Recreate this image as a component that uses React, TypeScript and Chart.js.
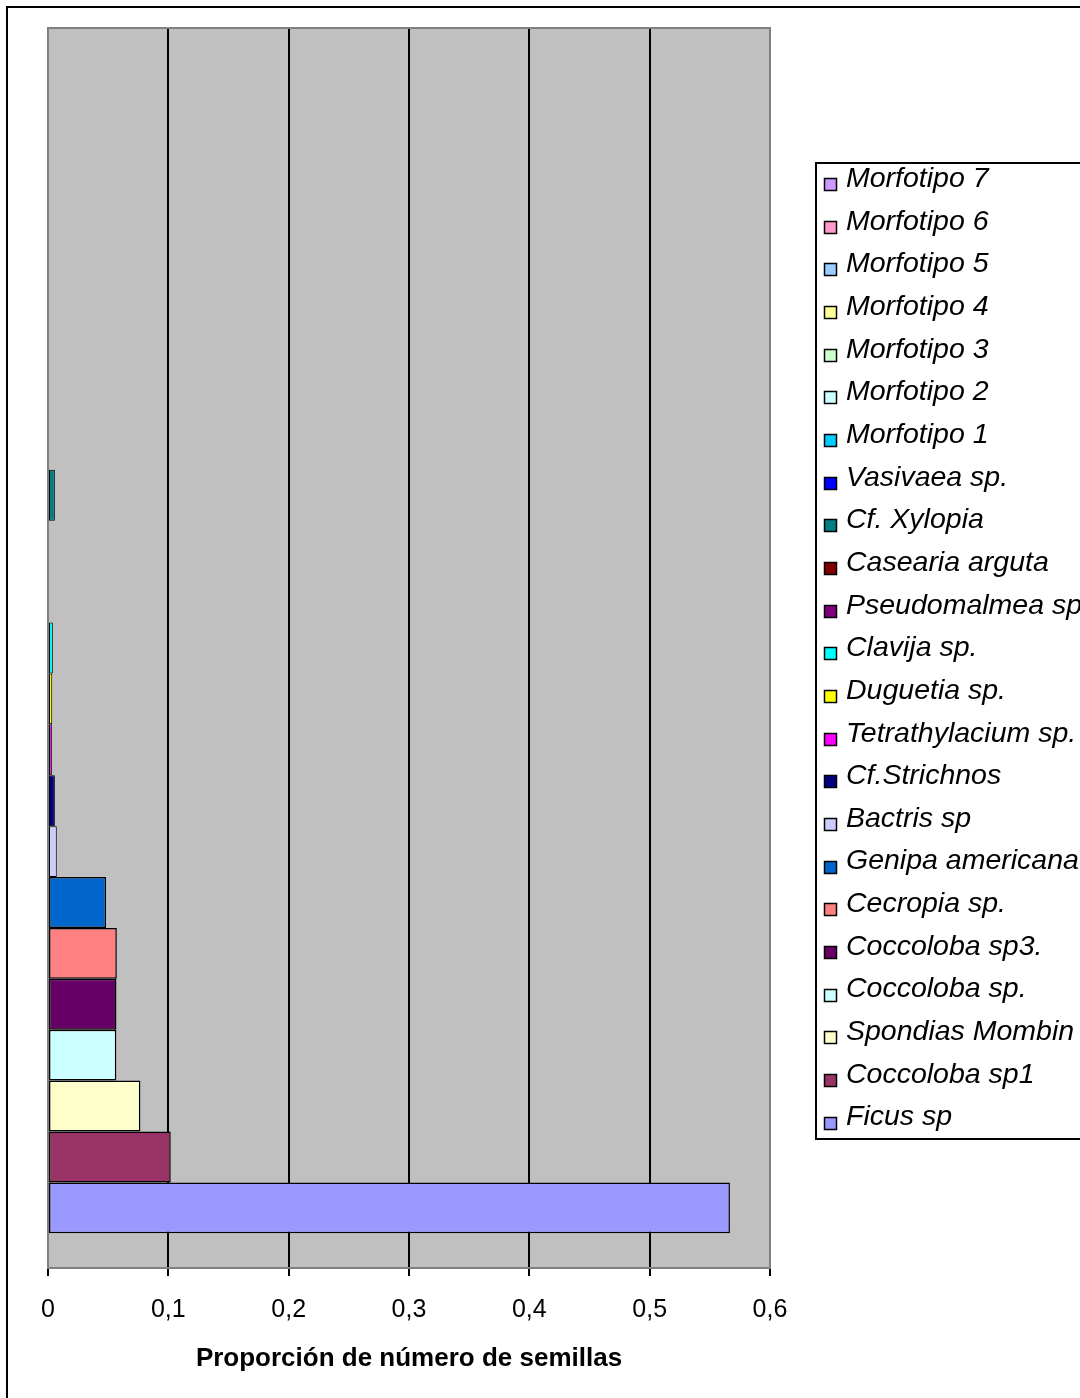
import React, { useEffect, useRef } from "react";
import { Chart, registerables } from "chart.js";

Chart.register(...registerables);

// Species, listed from the top bar down to the bottom bar (same order as the key).
const species = [
  "Morfotipo 7",
  "Morfotipo 6",
  "Morfotipo 5",
  "Morfotipo 4",
  "Morfotipo 3",
  "Morfotipo 2",
  "Morfotipo 1",
  "Vasivaea sp.",
  "Cf. Xylopia",
  "Casearia arguta",
  "Pseudomalmea sp.",
  "Clavija sp.",
  "Duguetia sp.",
  "Tetrathylacium sp.",
  "Cf.Strichnos",
  "Bactris sp",
  "Genipa americana",
  "Cecropia sp.",
  "Coccoloba sp3.",
  "Coccoloba sp.",
  "Spondias Mombin",
  "Coccoloba sp1",
  "Ficus sp",
];

// Proportion of the number of seeds for each species.
const proportions = [
  0, 0, 0, 0, 0, 0, 0, 0,
  0.0057, 0, 0, 0.004, 0.0035, 0.0032, 0.0057, 0.0073,
  0.0483, 0.0572, 0.0569, 0.0568, 0.0768, 0.102, 0.5667,
];

const fills = [
  "#CC99FF", "#FF99CC", "#99CCFF", "#FFFF99", "#CCFFCC", "#CCFFFF", "#00CCFF",
  "#0000FF", "#008080", "#800000", "#800080", "#00FFFF", "#FFFF00", "#FF00FF",
  "#000080", "#CCCCFF", "#0066CC", "#FF8080", "#660066", "#CCFFFF", "#FFFFCC",
  "#993366", "#9999FF",
];

const xTickLabels = ["0", "0,1", "0,2", "0,3", "0,4", "0,5", "0,6"];
const xTitle = "Proporción de número de semillas";

const FONT = '"Liberation Sans", Arial, sans-serif';
const W = 1074;
const H = 1392;

// Outer frame plus grey plot background with a dark-grey edge.
const plotBackground = {
  id: "plotBackground",
  beforeDraw(chart: any) {
    const { ctx, chartArea } = chart;
    const { left, top, right, bottom } = chartArea;
    ctx.save();
    ctx.fillStyle = "#FFFFFF";
    ctx.fillRect(0, 0, chart.width, chart.height);
    ctx.fillStyle = "#000000";
    ctx.fillRect(0, 0, chart.width, 2);
    ctx.fillRect(0, 0, 2, chart.height);
    ctx.fillStyle = "#C0C0C0";
    ctx.fillRect(left, top, right - left, bottom - top);
    ctx.restore();
  },
  beforeDatasetsDraw(chart: any) {
    const { ctx, chartArea } = chart;
    const { left, top, right, bottom } = chartArea;
    ctx.save();
    ctx.strokeStyle = "#808080";
    ctx.lineWidth = 2;
    ctx.strokeRect(Math.round(left), Math.round(top), Math.round(right - left), Math.round(bottom - top));
    ctx.restore();
  },
};

// Boxed key on the right, one row per dataset.
const speciesKey = {
  id: "speciesKey",
  afterDraw(chart: any) {
    const ctx = chart.ctx;
    const boxLeft = 809;
    const boxTop = 156;
    const boxBottom = 1132;
    const firstRow = 173;
    const rowStep = 42.66;
    ctx.save();
    ctx.fillStyle = "#FFFFFF";
    ctx.fillRect(boxLeft, boxTop, chart.width - boxLeft + 20, boxBottom - boxTop);
    ctx.strokeStyle = "#000000";
    ctx.lineWidth = 2;
    ctx.strokeRect(boxLeft + 1, boxTop + 1, chart.width, boxBottom - boxTop);
    ctx.font = `italic 28.5px ${FONT}`;
    ctx.textBaseline = "middle";
    ctx.textAlign = "left";
    chart.data.datasets.forEach((ds: any, i: number) => {
      const cy = firstRow + i * rowStep;
      const by = Math.round(cy - 1);
      ctx.fillStyle = ds.backgroundColor;
      ctx.fillRect(818, by, 13, 13);
      ctx.strokeStyle = "#000";
      ctx.lineWidth = 1.5;
      ctx.strokeRect(818.5, by + 0.5, 12, 12);
      ctx.fillStyle = "#000";
      ctx.fillText(ds.label, 840, cy);
    });
    ctx.restore();
  },
};

function SeedChart() {
  const ref = useRef<HTMLCanvasElement | null>(null);

  useEffect(() => {
    if (!ref.current) return;
    Chart.defaults.font.family = FONT;
    const chart = new Chart(ref.current, {
      type: "bar",
      data: {
        labels: [""],
        datasets: species.map((name, i) => ({
          label: name,
          data: [proportions[i]],
          backgroundColor: fills[i],
          borderColor: "#000000",
          borderWidth: proportions[i] > 0 ? (proportions[i] < 0.01 ? 1 : 1.5) : 0,
          borderSkipped: false,
          barPercentage: 1,
          categoryPercentage: 0.944,
        })),
      },
      options: {
        indexAxis: "y",
        responsive: false,
        animation: false,
        layout: { padding: { left: 42, top: 22, right: 310, bottom: 0 } },
        plugins: {
          legend: { display: false },
          tooltip: { enabled: false },
        },
        scales: {
          y: { display: false },
          x: {
            type: "linear",
            position: "bottom",
            min: 0,
            max: 0.6,
            ticks: {
              stepSize: 0.1,
              padding: 19,
              color: "#000",
              font: { size: 25 },
              callback: (_v: any, i: number) => xTickLabels[i],
            },
            grid: {
              color: (c: any) => (c.index === 0 || c.index === 6 ? "#808080" : "#000000"),
              tickColor: "#000000",
              tickLength: 8,
              lineWidth: 2,
              tickWidth: 2,
            },
            border: { display: true, color: "#808080", width: 2 },
            title: {
              display: true,
              text: xTitle,
              color: "#000",
              font: { size: 26, weight: "bold" },
              padding: { top: 0, bottom: 23.4 },
            },
            afterFit: (scale: any) => {
              scale.height = 130;
            },
          },
        },
      },
      plugins: [plotBackground, speciesKey],
    } as any);
    return () => chart.destroy();
  }, []);

  return (
    <canvas
      ref={ref}
      width={W}
      height={H}
      style={{ display: "block", position: "absolute", left: 6, top: 6 }}
    />
  );
}

export default function App() {
  return <SeedChart />;
}
